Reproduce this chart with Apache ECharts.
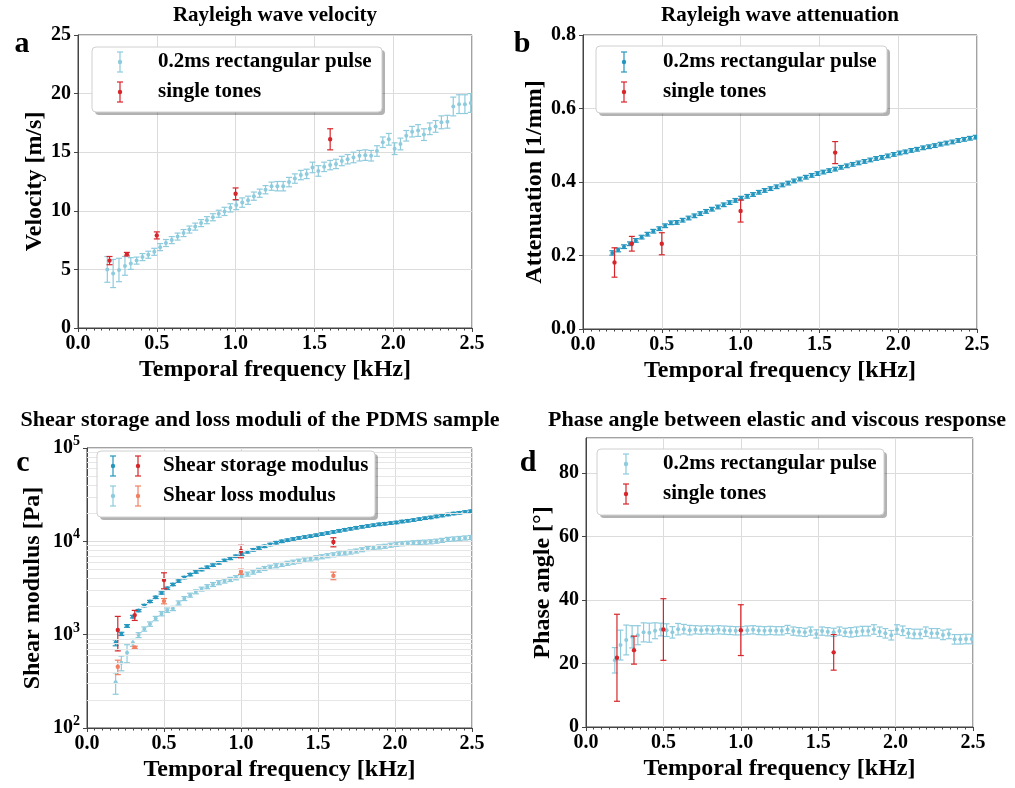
<!DOCTYPE html>
<html>
<head>
<meta charset="utf-8">
<script src="https://cdn.jsdelivr.net/npm/echarts@6/dist/echarts.min.js"></script>
<style>
  html, body { margin: 0; padding: 0; background: #fff; }
  #main { width: 1015px; height: 788px; }
</style>
</head>
<body>
<div id="main"></div>
<script>
// pulse measurement frequencies [kHz]
const pulseFreq = [0.186, 0.223, 0.260, 0.298, 0.335, 0.372, 0.409, 0.446, 0.484, 0.521,
  0.558, 0.595, 0.632, 0.670, 0.707, 0.744, 0.781, 0.818, 0.856, 0.893,
  0.930, 0.967, 1.004, 1.042, 1.079, 1.116, 1.153, 1.190, 1.228, 1.265,
  1.302, 1.339, 1.376, 1.414, 1.451, 1.488, 1.525, 1.562, 1.600, 1.637,
  1.674, 1.711, 1.748, 1.786, 1.823, 1.860, 1.897, 1.934, 1.972, 2.009,
  2.046, 2.083, 2.120, 2.158, 2.195, 2.232, 2.269, 2.306, 2.344, 2.381,
  2.418, 2.455, 2.492];
// single tone frequencies [kHz]
const toneFreq = [0.2, 0.31, 0.5, 1.0, 1.6];

// a: Rayleigh wave velocity [m/s]
const velPulse = [5.0, 4.65, 4.95, 5.3, 5.5, 5.75, 6.05, 6.25, 6.5, 6.9,
  7.25, 7.5, 7.8, 8.1, 8.4, 8.65, 8.95, 9.2, 9.45, 9.75,
  9.95, 10.25, 10.5, 10.7, 10.9, 11.25, 11.5, 11.8, 12.1, 12.1,
  12.1, 12.45, 12.75, 13.05, 13.15, 13.7, 13.4, 13.75, 13.9, 14.0,
  14.25, 14.4, 14.55, 14.7, 14.75, 14.7, 15.1, 15.85, 16.1, 15.3,
  15.7, 16.4, 16.75, 16.85, 16.5, 17.0, 17.2, 17.55, 17.6, 18.9,
  19.1, 19.1, 19.2];
const velPulseErr = [1.1, 1.2, 1.0, 0.8, 0.5, 0.3, 0.3, 0.3, 0.3, 0.3,
  0.3, 0.3, 0.3, 0.3, 0.3, 0.3, 0.3, 0.3, 0.3, 0.3,
  0.35, 0.35, 0.4, 0.4, 0.35, 0.35, 0.35, 0.35, 0.35, 0.4,
  0.4, 0.4, 0.4, 0.4, 0.4, 0.45, 0.45, 0.4, 0.4, 0.4,
  0.4, 0.4, 0.45, 0.45, 0.45, 0.45, 0.45, 0.45, 0.5, 0.5,
  0.5, 0.45, 0.45, 0.5, 0.5, 0.5, 0.5, 0.55, 0.55, 0.8,
  0.8, 0.8, 0.8];
const velTone = [5.75, 6.3, 7.9, 11.45, 16.1];
const velToneErr = [0.35, 0.15, 0.3, 0.5, 0.9];

// b: Rayleigh wave attenuation [1/mm]
const attPulse = [0.207, 0.215, 0.224, 0.232, 0.241, 0.250, 0.258, 0.266, 0.273, 0.281,
  0.289, 0.290, 0.296, 0.302, 0.308, 0.314, 0.320, 0.326, 0.332, 0.338,
  0.344, 0.350, 0.356, 0.361, 0.366, 0.372, 0.377, 0.382, 0.387, 0.392,
  0.397, 0.403, 0.408, 0.413, 0.418, 0.423, 0.427, 0.431, 0.435, 0.440,
  0.444, 0.448, 0.452, 0.456, 0.460, 0.464, 0.467, 0.471, 0.475, 0.479,
  0.482, 0.486, 0.489, 0.493, 0.496, 0.499, 0.503, 0.506, 0.509, 0.513,
  0.516, 0.519, 0.522];
const attPulseErr = [0.006, 0.005, 0.005, 0.005, 0.005, 0.005, 0.005, 0.005, 0.005, 0.005,
  0.005, 0.005, 0.005, 0.005, 0.005, 0.005, 0.005, 0.005, 0.005, 0.005,
  0.005, 0.005, 0.005, 0.005, 0.005, 0.005, 0.005, 0.005, 0.005, 0.005,
  0.005, 0.005, 0.005, 0.005, 0.005, 0.005, 0.005, 0.005, 0.005, 0.005,
  0.005, 0.005, 0.005, 0.005, 0.005, 0.005, 0.005, 0.005, 0.005, 0.005,
  0.005, 0.005, 0.005, 0.005, 0.005, 0.005, 0.005, 0.005, 0.005, 0.005,
  0.005, 0.005, 0.005];
const attTone = [0.181, 0.232, 0.232, 0.321, 0.48];
const attToneErr = [0.04, 0.02, 0.03, 0.03, 0.03];

// c: shear storage / loss modulus [Pa]
const storPulse = [820, 1020, 1240, 1560, 1810, 2050, 2270, 2510, 2800, 3140,
  3450, 3750, 4090, 4400, 4700, 4980, 5270, 5560, 5880, 6230,
  6570, 6920, 7280, 7720, 8100, 8460, 8840, 9250, 9680, 10000,
  10300, 10600, 10870, 11120, 11370, 11640, 11950, 12280, 12620, 12950,
  13300, 13620, 13960, 14300, 14600, 14900, 15200, 15440, 15680, 15930,
  16300, 16600, 16900, 17300, 17700, 18050, 18500, 18900, 19400, 19850,
  20200, 20600, 21000];
const storPulseErr = [60, 40, 40, 50, 50, 60, 60, 70, 80, 90,
  100, 110, 120, 130, 140, 150, 160, 170, 180, 190,
  200, 210, 220, 230, 240, 250, 260, 280, 290, 300,
  310, 320, 330, 340, 340, 350, 360, 370, 380, 390,
  400, 410, 420, 430, 440, 450, 460, 460, 470, 480,
  490, 500, 510, 520, 530, 540, 560, 570, 580, 600,
  610, 620, 630];
const lossPulse = [310, 500, 640, 820, 990, 1150, 1300, 1490, 1680, 1830,
  1910, 2190, 2440, 2650, 2880, 3080, 3270, 3450, 3610, 3760,
  3910, 4080, 4250, 4460, 4680, 4900, 5120, 5290, 5480, 5660,
  5820, 5980, 6140, 6310, 6490, 6670, 6840, 7020, 7180, 7350,
  7520, 7690, 7880, 8140, 8380, 8560, 8720, 8860, 9100, 9300,
  9420, 9540, 9660, 9740, 9810, 9890, 10050, 10250, 10500, 10620,
  10750, 10880, 11000];
const lossPulseErr = [80, 90, 140, 70, 60, 60, 70, 80, 90, 100,
  100, 110, 120, 130, 140, 150, 160, 170, 180, 190,
  200, 210, 210, 220, 230, 240, 250, 260, 270, 280,
  290, 300, 300, 310, 320, 330, 340, 350, 360, 370,
  380, 390, 390, 400, 420, 430, 440, 440, 450, 460,
  470, 470, 480, 490, 490, 500, 500, 510, 520, 530,
  530, 540, 550];
const storTone = [1120, 1620, 3850, 7870, 9830];
const storToneErr = [450, 200, 750, 1200, 1100];
const lossTone = [453, 731, 2290, 4730, 4280];
const lossToneErr = [80, 20, 150, 300, 400];
// minor log grid lines of panel c
const logMinor = [200, 300, 400, 500, 600, 700, 800, 900,
  2000, 3000, 4000, 5000, 6000, 7000, 8000, 9000,
  20000, 30000, 40000, 50000, 60000, 70000, 80000, 90000];

// d: phase angle [deg]
const phasePulse = [21.0, 25.8, 27.4, 28.4, 28.9, 29.8, 29.7, 30.3, 30.7, 30.5,
  29.8, 30.8, 30.8, 30.5, 30.6, 30.5, 30.6, 30.5, 30.6, 30.5,
  30.4, 30.3, 30.3, 30.5, 30.6, 30.4, 30.3, 30.4, 30.3, 30.3,
  30.7, 30.2, 30.0, 29.8, 30.2, 29.3, 30.2, 30.0, 29.8, 30.2,
  29.8, 29.8, 30.0, 30.2, 30.2, 30.7, 30.0, 29.5, 28.9, 30.7,
  30.3, 29.5, 29.3, 29.3, 30.0, 29.5, 29.5, 29.0, 29.3, 27.6,
  27.6, 27.7, 27.7];
const phasePulseErr = [4, 4.7, 4.7, 3.5, 3, 3, 3, 2.5, 2, 2,
  1.8, 1.8, 1.5, 1.5, 1.3, 1.3, 1.3, 1.3, 1.3, 1.3,
  1.3, 1.3, 1.3, 1.3, 1.3, 1.3, 1.3, 1.3, 1.3, 1.3,
  1.3, 1.3, 1.3, 1.3, 1.3, 1.3, 1.3, 1.3, 1.3, 1.3,
  1.3, 1.5, 1.5, 1.5, 1.5, 1.5, 1.5, 1.5, 1.5, 1.5,
  1.5, 1.5, 1.5, 1.5, 1.5, 1.5, 1.5, 1.5, 1.5, 1.5,
  1.5, 1.5, 1.5];
const phaseTone = [21.8, 24.2, 30.7, 30.5, 23.5];
const phaseToneErr = [13.7, 4.4, 9.7, 8.0, 5.6];

const LIGHT = '#8ecbdd';
const DARK = '#2596be';
const RED = '#d7262b';
const SALMON = '#f37f62';
const FONT = 'Liberation Serif';

function zip(xs, ys, es) {
  return xs.map((x, i) => [x, ys[i], es[i]]);
}

// error bar drawn through the axis scales
function errorBars(color, r, cap, lw) {
  return function (params, api) {
    const x = api.value(0), y = api.value(1), e = api.value(2);
    const c = api.coord([x, y]);
    const lo = api.coord([x, y - e]);
    const hi = api.coord([x, y + e]);
    const s = { stroke: color, lineWidth: lw };
    return {
      type: 'group',
      children: [
        { type: 'line', shape: { x1: c[0], y1: lo[1], x2: c[0], y2: hi[1] }, style: s },
        { type: 'line', shape: { x1: c[0] - cap, y1: lo[1], x2: c[0] + cap, y2: lo[1] }, style: s },
        { type: 'line', shape: { x1: c[0] - cap, y1: hi[1], x2: c[0] + cap, y2: hi[1] }, style: s },
        { type: 'circle', shape: { cx: c[0], cy: c[1], r: r }, style: { fill: color } }
      ]
    };
  };
}

function errSeries(name, gi, data, color, r, cap) {
  return {
    name: name, type: 'custom', xAxisIndex: gi, yAxisIndex: gi,
    renderItem: errorBars(color, r, cap, 1.2),
    encode: { x: 0, y: 1 },
    clip: true,
    data: data
  };
}

const bold = { fontFamily: FONT, fontWeight: 'bold', color: '#000' };

function xAxis(gi) {
  return {
    type: 'value', gridIndex: gi, min: 0, max: 2.5, interval: 0.5,
    name: 'Temporal frequency [kHz]', nameLocation: 'middle', nameGap: 30,
    nameTextStyle: Object.assign({ fontSize: 24 }, bold),
    axisLine: { show: true, onZero: false, lineStyle: { color: '#444' } },
    axisTick: { show: true, length: 4, lineStyle: { color: '#444' } },
    minorTick: { show: true, splitNumber: 10, length: 2.5, lineStyle: { color: '#444' } },
    axisLabel: Object.assign({ fontSize: 20, margin: 6, formatter: v => v.toFixed(1) }, bold),
    splitLine: { show: true, lineStyle: { color: '#dcdcdc' } }
  };
}

function yAxis(gi, name, min, max, interval, gap, fmt) {
  return {
    type: 'value', gridIndex: gi, min: min, max: max, interval: interval,
    name: name, nameLocation: 'middle', nameGap: gap,
    nameTextStyle: Object.assign({ fontSize: 24 }, bold),
    axisLine: { show: true, onZero: false, lineStyle: { color: '#444' } },
    axisTick: { show: true, length: 4, lineStyle: { color: '#444' } },
    axisLabel: Object.assign({ fontSize: 20, margin: 7, showMaxLabel: max % interval === 0, formatter: fmt }, bold),
    splitLine: { show: true, lineStyle: { color: '#dcdcdc' } }
  };
}

// legend frame drawn on top of the plot
function legendBox(x, y, w, h, rows) {
  const Z = 100;
  const children = [
    { type: 'rect', z: Z, shape: { x: x + 3, y: y + 3, width: w, height: h, r: 4 }, style: { fill: 'rgba(0,0,0,0.3)' } },
    { type: 'rect', z: Z, shape: { x: x, y: y, width: w, height: h, r: 4 }, style: { fill: '#fff', stroke: '#d0d0d0', lineWidth: 1 } }
  ];
  rows.forEach(row => {
    row.icons.forEach(ic => {
      const s = { stroke: ic.color, lineWidth: 1.2 };
      children.push(
        { type: 'line', z: Z + 1, shape: { x1: ic.x, y1: row.y - 10, x2: ic.x, y2: row.y + 10 }, style: s },
        { type: 'line', z: Z + 1, shape: { x1: ic.x - 3, y1: row.y - 10, x2: ic.x + 3, y2: row.y - 10 }, style: s },
        { type: 'line', z: Z + 1, shape: { x1: ic.x - 3, y1: row.y + 10, x2: ic.x + 3, y2: row.y + 10 }, style: s },
        { type: 'circle', z: Z + 1, shape: { cx: ic.x, cy: row.y, r: 2.2 }, style: { fill: ic.color } }
      );
    });
    children.push({
      type: 'text', z: Z + 1, x: row.tx, y: row.y,
      style: { text: row.text, font: 'bold 21px "Liberation Serif"', fill: '#000', verticalAlign: 'middle' }
    });
  });
  return { type: 'group', zlevel: 1, children: children };
}

function panelText(text, x, y, size) {
  return {
    type: 'text', x: x, y: y, z: 100,
    style: { text: text, font: 'bold ' + size + 'px "Liberation Serif"', fill: '#000', align: 'center', verticalAlign: 'middle' }
  };
}

const chart = echarts.init(document.getElementById('main'));

const option = {
  animation: false,
  backgroundColor: '#fff',
  grid: [
    { left: 78, top: 35, width: 394, height: 293, show: true, borderColor: '#444', borderWidth: 1 },
    { left: 583, top: 35, width: 394, height: 294, show: true, borderColor: '#444', borderWidth: 1 },
    { left: 87, top: 448, width: 385, height: 280, show: true, borderColor: '#444', borderWidth: 1 },
    { left: 586, top: 438, width: 387, height: 289, show: true, borderColor: '#444', borderWidth: 1 }
  ],
  xAxis: [xAxis(0), xAxis(1), xAxis(2), xAxis(3)],
  yAxis: [
    yAxis(0, 'Velocity [m/s]', 0, 25, 5, 22, v => String(v)),
    yAxis(1, 'Attenuation [1/mm]', 0, 0.8, 0.2, 22, v => v.toFixed(1)),
    {
      type: 'log', logBase: 10, gridIndex: 2, min: 100, max: 100000,
      name: 'Shear modulus [Pa]', nameLocation: 'middle', nameGap: 42,
      nameTextStyle: Object.assign({ fontSize: 24 }, bold),
      axisLine: { show: true, onZero: false, lineStyle: { color: '#444' } },
      axisTick: { show: true, length: 4, lineStyle: { color: '#444' } },
      axisLabel: {
        margin: 7,
        formatter: v => '{b|10}{s|' + Math.round(Math.log10(v)) + '}',
        rich: {
          b: Object.assign({ fontSize: 20 }, bold),
          s: Object.assign({ fontSize: 14, padding: [0, 0, 13, 0] }, bold)
        }
      },
      splitLine: { show: true, lineStyle: { color: '#dcdcdc' } }
    },
    yAxis(3, 'Phase angle [°]', 0, 91, 20, 30, v => String(v))
  ],
  graphic: [
    panelText('Rayleigh wave velocity', 275, 16, 21),
    panelText('Rayleigh wave attenuation', 780, 16, 21),
    panelText('Shear storage and loss moduli of the PDMS sample', 260, 420, 22),
    panelText('Phase angle between elastic and viscous response', 777, 420, 22),
    panelText('a', 22, 44, 30),
    panelText('b', 522, 44, 30),
    panelText('c', 23, 463, 30),
    panelText('d', 528, 463, 30),
    legendBox(92, 47, 290, 65, [
      { y: 62, tx: 158, text: '0.2ms rectangular pulse', icons: [{ x: 120, color: LIGHT }] },
      { y: 92, tx: 158, text: 'single tones', icons: [{ x: 120, color: RED }] }
    ]),
    legendBox(596, 46, 291, 67, [
      { y: 62, tx: 663, text: '0.2ms rectangular pulse', icons: [{ x: 624, color: DARK }] },
      { y: 92, tx: 663, text: 'single tones', icons: [{ x: 624, color: RED }] }
    ]),
    legendBox(97, 451, 278, 66, [
      { y: 466, tx: 163, text: 'Shear storage modulus', icons: [{ x: 113, color: DARK }, { x: 138, color: RED }] },
      { y: 496, tx: 163, text: 'Shear loss modulus', icons: [{ x: 113, color: LIGHT }, { x: 138, color: SALMON }] }
    ]),
    legendBox(597, 449, 287, 66, [
      { y: 464, tx: 663, text: '0.2ms rectangular pulse', icons: [{ x: 626, color: LIGHT }] },
      { y: 494, tx: 663, text: 'single tones', icons: [{ x: 626, color: RED }] }
    ])
  ],
  series: [
    {
      type: 'line', xAxisIndex: 2, yAxisIndex: 2, data: [], silent: true,
      markLine: {
        silent: true, symbol: 'none', label: { show: false },
        lineStyle: { color: '#e6e6e6', width: 1, type: 'solid' },
        data: logMinor.map(v => ({ yAxis: v }))
      }
    },
    errSeries('a pulse', 0, zip(pulseFreq, velPulse, velPulseErr), LIGHT, 2, 3),
    errSeries('a tones', 0, zip(toneFreq, velTone, velToneErr), RED, 2.2, 3),
    errSeries('b pulse', 1, zip(pulseFreq, attPulse, attPulseErr), DARK, 2, 3),
    errSeries('b tones', 1, zip(toneFreq, attTone, attToneErr), RED, 2.2, 3),
    errSeries('c loss pulse', 2, zip(pulseFreq, lossPulse, lossPulseErr), LIGHT, 2, 3),
    errSeries('c storage pulse', 2, zip(pulseFreq, storPulse, storPulseErr), DARK, 2, 3),
    errSeries('c loss tones', 2, zip(toneFreq, lossTone, lossToneErr), SALMON, 2.2, 3),
    errSeries('c storage tones', 2, zip(toneFreq, storTone, storToneErr), RED, 2.2, 3),
    errSeries('d pulse', 3, zip(pulseFreq, phasePulse, phasePulseErr), LIGHT, 2, 3),
    errSeries('d tones', 3, zip(toneFreq, phaseTone, phaseToneErr), RED, 2.2, 3)
  ]
};

chart.setOption(option);
</script>
</body>
</html>
